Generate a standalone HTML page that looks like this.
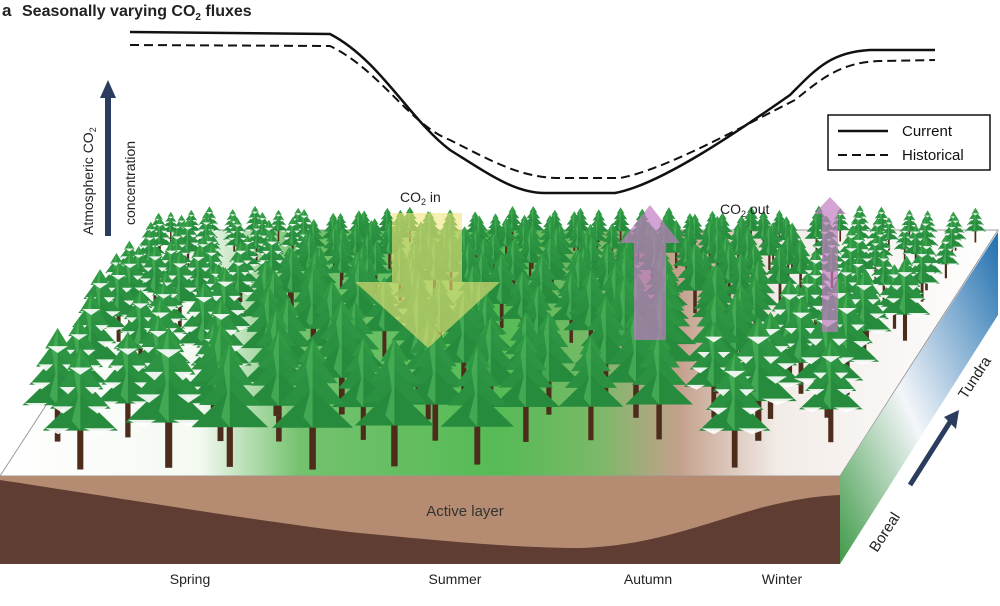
<!DOCTYPE html>
<html><head><meta charset="utf-8"><style>
html,body{margin:0;padding:0;background:#fff}
svg{display:block}
text{font-family:"Liberation Sans",sans-serif}
</style></head><body>
<svg id="s" width="1000" height="606" viewBox="0 0 1000 606" xmlns="http://www.w3.org/2000/svg">
<defs>
<linearGradient id="gnd" x1="0" y1="0" x2="1" y2="0">
<stop offset="0" stop-color="#ffffff"/>
<stop offset="0.2" stop-color="#f4f9f2"/>
<stop offset="0.3" stop-color="#74c26e"/>
<stop offset="0.5" stop-color="#55bb55"/>
<stop offset="0.6" stop-color="#7ab968"/>
<stop offset="0.68" stop-color="#c4a08c"/>
<stop offset="0.78" stop-color="#f2ece8"/>
<stop offset="1" stop-color="#ffffff"/>
</linearGradient>
<linearGradient id="side" x1="0" y1="1" x2="1" y2="0">
<stop offset="0" stop-color="#3f9a48"/>
<stop offset="0.45" stop-color="#f4f6fa"/>
<stop offset="1" stop-color="#1f6fae"/>
</linearGradient>
<g id="tree">
<rect x="-2.5" y="-36" width="5" height="36" fill="#4e2c1c"/>
<polygon points="0,-100 -11,-82 11,-82" fill="#2f9a42"/>
<polygon points="0,-92 -19,-66 19,-66" fill="#2c9442"/>
<polygon points="0,-78 -25,-50 25,-50" fill="#2a9140"/>
<polygon points="0,-62 -31,-32 31,-32" fill="#278b3d"/>
<polygon points="0,-100 -5,-80 -2,-60 -7,-40 0,-32" fill="#4fb55c" opacity="0.7"/>
</g>
<g id="snow">
<polygon points="-9,-84 9,-84 0,-78" fill="#fff"/>
<polygon points="-17,-68 -4,-68 -10,-62" fill="#fff"/>
<polygon points="4,-68 17,-68 10,-62" fill="#fff"/>
<polygon points="-23,-52 -6,-52 -14,-46" fill="#fff"/>
<polygon points="6,-52 23,-52 14,-46" fill="#fff"/>
<polygon points="-29,-34 -9,-34 -18,-29" fill="#fff"/>
<polygon points="3,-34 29,-34 15,-29" fill="#fff"/>
</g>
</defs>
<text x="2" y="16" font-size="17" font-weight="bold" fill="#222">a</text>
<text x="22" y="16" font-size="16" font-weight="bold" fill="#222">Seasonally varying CO<tspan font-size="10" dy="4">2</tspan><tspan dy="-4"> fluxes</tspan></text>
<path d="M130,32 L330,34 C380,60 410,120 450,150 C490,175 515,193 545,193 L615,193 C660,185 740,130 790,95 C815,70 830,52 870,50 L935,50" fill="none" stroke="#111" stroke-width="2.5"/>
<path d="M130,45 L330,46 C380,70 410,125 450,140 C490,160 520,178 560,178 L620,178 C665,170 745,125 795,100 C820,80 840,62 880,61 L935,60" fill="none" stroke="#111" stroke-width="2" stroke-dasharray="9,5"/>
<rect x="828" y="115" width="162" height="55" fill="#fff" stroke="#111" stroke-width="1.5"/>
<line x1="838" y1="131" x2="888" y2="131" stroke="#111" stroke-width="2.5"/>
<text x="902" y="136" font-size="15" fill="#111">Current</text>
<line x1="838" y1="155" x2="888" y2="155" stroke="#111" stroke-width="2" stroke-dasharray="9,5"/>
<text x="902" y="160" font-size="15" fill="#111">Historical</text>
<line x1="108" y1="236" x2="108" y2="95" stroke="#2b3d5e" stroke-width="6"/>
<polygon points="100,98 116,98 108,80" fill="#2b3d5e"/>
<text transform="translate(93,235) rotate(-90)" font-size="14" fill="#222">Atmospheric CO<tspan font-size="9" dy="3">2</tspan></text>
<text transform="translate(135,225) rotate(-90)" font-size="14" fill="#222">concentration</text>
<polygon points="160,230 998,230 840,476 0,476" fill="url(#gnd)" stroke="#999" stroke-width="1"/>
<g id="trees"></g>
<polygon points="392,213 462,213 462,282 500,282 428,348 355,282 392,282" fill="#f2e57a" opacity="0.6"/>
<polygon points="634,243 666,243 666,340 634,340" fill="#c07cc0" opacity="0.7"/>
<polygon points="620,243 680,243 650,205" fill="#c07cc0" opacity="0.7"/>
<polygon points="822,214 838,214 838,332 822,332" fill="#c07cc0" opacity="0.7"/>
<polygon points="814,214 846,214 830,197" fill="#c07cc0" opacity="0.7"/>
<text x="400" y="202" font-size="14" fill="#222">CO<tspan font-size="9" dy="3">2</tspan><tspan dy="-3"> in</tspan></text>
<text x="720" y="214" font-size="14" fill="#222">CO<tspan font-size="9" dy="3">2</tspan><tspan dy="-3"> out</tspan></text>
<rect x="0" y="476" width="840" height="88" fill="#b58c72"/>
<path d="M0,480 C100,495 250,520 350,532 C450,542 520,548 580,548 C650,546 700,525 760,508 C800,498 820,496 840,495 L840,564 L0,564 Z" fill="#5f3d32"/>
<text x="465" y="516" font-size="15" fill="#333" text-anchor="middle">Active layer</text>
<polygon points="840,476 998,232 998,315 840,564" fill="url(#side)"/>
<line x1="910" y1="485" x2="950" y2="422" stroke="#2b3d5e" stroke-width="5"/>
<polygon points="944,417 959,410 956,429" fill="#2b3d5e"/>
<text transform="translate(877,553) rotate(-57)" font-size="15" fill="#222">Boreal</text>
<text transform="translate(966,400) rotate(-57)" font-size="15" fill="#222">Tundra</text>
<text x="190" y="584" font-size="14" fill="#222" text-anchor="middle">Spring</text>
<text x="455" y="584" font-size="14" fill="#222" text-anchor="middle">Summer</text>
<text x="648" y="584" font-size="14" fill="#222" text-anchor="middle">Autumn</text>
<text x="782" y="584" font-size="14" fill="#222" text-anchor="middle">Winter</text>
</svg>
<script>
(function(){
var g=document.getElementById('trees');
var seed=11;function r(){seed=(seed*9301+49297)%233280;return seed/233280;}
var ys=[],y=242;
while(y<455){ys.push(y);var s0=0.28+(y-230)/242;y+=Math.max(9,22*s0);}
ys.push(467);
var out='';
ys.forEach(function(y){
 var t=(y-230)/242, s=0.28+t*1.0;
 var xl=160-(y-230)*(160/246)+20*s, xr=998-(y-230)*(158/246)-22*s;
 var step=66*s, x=xl+r()*step*0.6;
 while(x<xr){
  var xx=x+(r()-0.5)*step*0.4, yy=y+(r()-0.5)*5*s, ss=s*(0.88+r()*0.25);
  if(r()>0.1){
   var tr='translate('+xx.toFixed(1)+','+yy.toFixed(1)+') scale('+ss.toFixed(3)+')';
   out+='<use href="#tree" transform="'+tr+'"/>';
   var fx=(xx-xl)/(xr-xl);
   if(fx<0.2||fx>0.82) out+='<use href="#snow" transform="'+tr+'" opacity="0.9"/>';
  }
  x+=step;
 }
});
g.innerHTML=out;
})();
</script>
</body></html>
